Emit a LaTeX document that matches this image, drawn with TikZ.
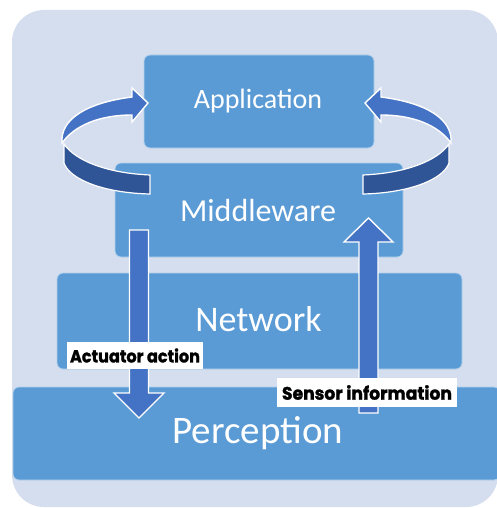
\documentclass[tikz,border=0pt]{standalone}
\usepackage{fontspec}
\setmainfont{Carlito}
\newfontfamily\labelfont{Poppins}[BoldFeatures={FakeBold=1.5}]
\definecolor{bgblue}{HTML}{D5DEEE}
\definecolor{layerblue}{HTML}{5B9BD5}
\definecolor{arrowblue}{HTML}{4472C4}
\definecolor{darkband}{HTML}{2F5597}
\begin{document}
\begin{tikzpicture}[x=1pt,y=-1pt,
  layer/.style={fill=layerblue,draw=white!55!layerblue,line width=0.8pt,rounded corners=6pt,inner sep=0pt},
  layertext/.style={text=white,anchor=base,inner sep=0pt},
  blockarrow/.style={fill=arrowblue,draw=white,line width=1.4pt,line join=miter},
  backband/.style={fill=darkband,draw=white,line width=1.2pt},
  tag/.style={fill=white,inner sep=0pt,text=black}]
\useasboundingbox (0,0) rectangle (496,508);
% backdrop
\fill[bgblue,rounded corners=32pt] (12,10) rectangle (498,507);

% the four layers
\node[layer,minimum width=487pt,minimum height=93pt] (perc) at (256.5,433.5) {};
\node[layer,minimum width=405pt,minimum height=96pt] (net) at (259.5,321) {};
\node[layer,minimum width=288pt,minimum height=94pt] (mid) at (259,210) {};
\node[layer,minimum width=230pt,minimum height=93pt] (app) at (259,101.5) {};

\node[layertext,font=\fontsize{28}{30}\selectfont] (apptext) at (258,109) {Application};
\node[layertext,font=\fontsize{32}{34}\selectfont] (midtext) at (258,221.5) {Middleware};
\node[layertext,font=\fontsize{36}{38}\selectfont] (nettext) at (258.5,331.5) {Network};
\node[layertext,font=\fontsize{39}{41}\selectfont] (perctext) at (258,443) {Perception};

% looping arrows between middleware and application (left one, then its mirror)
\foreach \s/\o in {1/0,-1/513}{
  \begin{scope}[shift={(\o,0)},xscale=\s]
    \draw[backband] (64,144) .. controls (75,160) and (105,173) .. (150,175)
      -- (150,194) .. controls (105,193) and (70,180) .. (64,163) -- cycle;
    \draw[blockarrow] (62,143) .. controls (60,120) and (85,103) .. (132,97)
      -- (132,88) -- (148,103) -- (132,122) -- (132,115)
      .. controls (100,115) and (75,125) .. (62,143) -- cycle;
  \end{scope}
}

% actuator action: down from middleware to perception
\coordinate (actTop) at (139,230);
\coordinate (actTip) at (139,418);
\draw[blockarrow] ([xshift=-9.5pt]actTop) -- ([xshift=9.5pt]actTop)
  -- (148.5,393) -- (164,393) -- (actTip) -- (114,393) -- (129.5,393) -- cycle;

% sensor information: up from perception to middleware
\coordinate (senBot) at (368.5,413);
\coordinate (senTip) at (368.5,218);
\draw[blockarrow] ([xshift=-9.5pt]senBot) -- ([xshift=9.5pt]senBot)
  -- (378,242) -- (393,242) -- (senTip) -- (344,242) -- (359,242) -- cycle;

% labels
\node[tag,minimum width=136pt,minimum height=27pt] (actlabel) at (135,355.5)
  {\resizebox{130pt}{14pt}{\labelfont\bfseries Actuator action}};
\node[tag,minimum width=180pt,minimum height=29pt] (senlabel) at (367,392.5)
  {\resizebox{170pt}{14.5pt}{\labelfont\bfseries Sensor information}};
\end{tikzpicture}
\end{document}
